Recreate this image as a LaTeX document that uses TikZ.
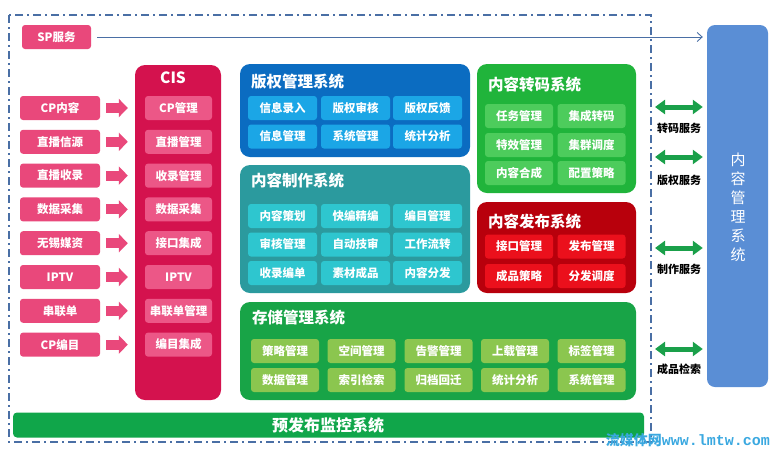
\documentclass[tikz,border=0pt]{standalone}
\usepackage{fontspec}
\setmainfont{Noto Sans CJK SC}
\newfontfamily\wmmono{Liberation Mono}
\usetikzlibrary{arrows.meta}

\definecolor{framecol}{HTML}{4A6FA5}
\definecolor{inpink}{HTML}{E9487B}
\definecolor{cisred}{HTML}{D4124E}
\definecolor{cispink}{HTML}{EC5787}
\definecolor{bqblue}{HTML}{0B6CC1}
\definecolor{bqitem}{HTML}{1BA6E6}
\definecolor{zzteal}{HTML}{2B9A9E}
\definecolor{zzitem}{HTML}{2EC6CF}
\definecolor{zmgreen}{HTML}{20B43B}
\definecolor{zmitem}{HTML}{4DCC5C}
\definecolor{fbred}{HTML}{B8000C}
\definecolor{fbitem}{HTML}{EB101C}
\definecolor{ccgreen}{HTML}{18A447}
\definecolor{ccitem}{HTML}{8BC64F}
\definecolor{jkgreen}{HTML}{10A64A}
\definecolor{cmsblue}{HTML}{5A8ED5}
\definecolor{svcgreen}{HTML}{1AA04A}
\definecolor{wmblue}{HTML}{3AA8E0}

\begin{document}
\begin{tikzpicture}[x=1pt, y=-1pt,
  every node/.style={inner sep=0pt, text=white},
  sysbox/.style={rounded corners=10pt},
  itembox/.style={rounded corners=3pt, minimum width=68pt, minimum height=24pt,
    font=\fontsize{11.5}{12}\selectfont\bfseries},
  inbox/.style={itembox, fill=inpink, minimum width=80pt},
  cisitem/.style={itembox, fill=cispink, minimum width=67pt},
  systitle/.style={anchor=west, font=\fontsize{15.5}{16}\selectfont\bfseries},
  svclabel/.style={text=black, font=\fontsize{11}{12}\selectfont\bfseries},
  pinkarrow/.style={draw=inpink, line width=10pt, -{Triangle[length=9pt,width=18pt]},
    shorten <=6pt, shorten >=17pt},
  svcarrow/.style={draw=svcgreen, line width=5pt,
    {Triangle[length=10pt,width=14pt]}-{Triangle[length=10pt,width=14pt]}, shorten >=4pt}
]

  \useasboundingbox (0,0) rectangle (773,448);

  % outer frame
  \draw[framecol, line width=1.6pt, dash pattern=on 8pt off 4pt on 2pt off 4pt]
    (9,15) rectangle (651,442);

  % content management system
  \node[sysbox, rounded corners=8pt, fill=cmsblue, minimum width=61pt, minimum height=362pt]
    (cms) at (737.5,206) {};
  \node[align=center, font=\fontsize{15}{19}\selectfont] (cmstext) at (738,207)
    {内\\容\\管\\理\\系\\统};

  % SP service
  \node[itembox, fill=inpink, minimum width=69pt] (sp) at (56.5,37) {SP服务};
  \draw[framecol, line width=0.9pt, -{Straight Barb[length=5pt,width=9pt]}, shorten <=6pt, shorten >=4pt]
    (sp) -- (sp -| cms.west);

  % CIS
  \node[sysbox, fill=cisred, minimum width=86pt, minimum height=335pt] (cis) at (178,232.5) {};
  \node[font=\fontsize{15.5}{16}\selectfont\bfseries] (cistitle) at (173,78) {CIS};

  % inputs
  \node[inbox] (in1) at (60,108) {CP内容};
  \node[inbox] (in2) at (60,141.8) {直播信源};
  \node[inbox] (in3) at (60,175.6) {直播收录};
  \node[inbox] (in4) at (60,209.4) {数据采集};
  \node[inbox] (in5) at (60,243.2) {无锡媒资};
  \node[inbox] (in6) at (60,277) {IPTV};
  \node[inbox] (in7) at (60,310.8) {串联单};
  \node[inbox] (in8) at (60,344.6) {CP编目};

  \node[cisitem] (cis1) at (178.5,108) {CP管理};
  \node[cisitem] (cis2) at (178.5,141.8) {直播管理};
  \node[cisitem] (cis3) at (178.5,175.6) {收录管理};
  \node[cisitem] (cis4) at (178.5,209.4) {数据采集};
  \node[cisitem] (cis5) at (178.5,243.2) {接口集成};
  \node[cisitem] (cis6) at (178.5,277) {IPTV};
  \node[cisitem] (cis7) at (178.5,310.8) {串联单管理};
  \node[cisitem] (cis8) at (178.5,344.6) {编目集成};

  \draw[pinkarrow] (in1) -- (cis1);
  \draw[pinkarrow] (in2) -- (cis2);
  \draw[pinkarrow] (in3) -- (cis3);
  \draw[pinkarrow] (in4) -- (cis4);
  \draw[pinkarrow] (in5) -- (cis5);
  \draw[pinkarrow] (in6) -- (cis6);
  \draw[pinkarrow] (in7) -- (cis7);
  \draw[pinkarrow] (in8) -- (cis8);

  % copyright management
  \node[sysbox, fill=bqblue, minimum width=230pt, minimum height=93pt] (bq) at (355,110.5) {};
  \node[systitle] (bqtitle) at (251,82) {版权管理系统};
  \node[itembox, fill=bqitem, minimum width=69pt] (bq1) at (282.5,108) {信息录入};
  \node[itembox, fill=bqitem, minimum width=69pt] (bq2) at (355.5,108) {版权审核};
  \node[itembox, fill=bqitem, minimum width=69pt] (bq3) at (427.5,108) {版权反馈};
  \node[itembox, fill=bqitem, minimum width=69pt] (bq4) at (282.5,136.5) {信息管理};
  \node[itembox, fill=bqitem, minimum width=69pt] (bq5) at (355.5,136.5) {系统管理};
  \node[itembox, fill=bqitem, minimum width=69pt] (bq6) at (427.5,136.5) {统计分析};

  % content production
  \node[sysbox, fill=zzteal, minimum width=230pt, minimum height=128pt] (zz) at (355,229) {};
  \node[systitle] (zztitle) at (251,181) {内容制作系统};
  \node[itembox, fill=zzitem, minimum width=69pt] (zz1) at (282.5,216) {内容策划};
  \node[itembox, fill=zzitem, minimum width=69pt] (zz2) at (355.5,216) {快编精编};
  \node[itembox, fill=zzitem, minimum width=69pt] (zz3) at (427.5,216) {编目管理};
  \node[itembox, fill=zzitem, minimum width=69pt] (zz4) at (282.5,244.5) {审核管理};
  \node[itembox, fill=zzitem, minimum width=69pt] (zz5) at (355.5,244.5) {自动技审};
  \node[itembox, fill=zzitem, minimum width=69pt] (zz6) at (427.5,244.5) {工作流转};
  \node[itembox, fill=zzitem, minimum width=69pt] (zz7) at (282.5,273) {收录编单};
  \node[itembox, fill=zzitem, minimum width=69pt] (zz8) at (355.5,273) {素材成品};
  \node[itembox, fill=zzitem, minimum width=69pt] (zz9) at (427.5,273) {内容分发};

  % transcoding
  \node[sysbox, fill=zmgreen, minimum width=159pt, minimum height=129pt] (zm) at (556.5,128.5) {};
  \node[systitle] (zmtitle) at (488,85) {内容转码系统};
  \node[itembox, fill=zmitem] (zm1) at (519,116) {任务管理};
  \node[itembox, fill=zmitem] (zm2) at (591.5,116) {集成转码};
  \node[itembox, fill=zmitem] (zm3) at (519,145) {特效管理};
  \node[itembox, fill=zmitem] (zm4) at (591.5,145) {集群调度};
  \node[itembox, fill=zmitem] (zm5) at (519,173) {内容合成};
  \node[itembox, fill=zmitem] (zm6) at (591.5,173) {配置策略};

  % publishing
  \node[sysbox, fill=fbred, minimum width=159pt, minimum height=91pt] (fb) at (556.5,247.5) {};
  \node[systitle] (fbtitle) at (488,222) {内容发布系统};
  \node[itembox, fill=fbitem] (fb1) at (519,246.5) {接口管理};
  \node[itembox, fill=fbitem] (fb2) at (591.5,246.5) {发布管理};
  \node[itembox, fill=fbitem] (fb3) at (519,276) {成品策略};
  \node[itembox, fill=fbitem] (fb4) at (591.5,276) {分发调度};

  % storage
  \node[sysbox, fill=ccgreen, minimum width=396pt, minimum height=98pt] (cc) at (438,351) {};
  \node[systitle] (cctitle) at (252,318) {存储管理系统};
  \node[itembox, fill=ccitem] (cc1) at (285,351) {策略管理};
  \node[itembox, fill=ccitem] (cc2) at (361.5,351) {空间管理};
  \node[itembox, fill=ccitem] (cc3) at (438.5,351) {告警管理};
  \node[itembox, fill=ccitem] (cc4) at (515,351) {上载管理};
  \node[itembox, fill=ccitem] (cc5) at (591.5,351) {标签管理};
  \node[itembox, fill=ccitem] (cc6) at (285,380) {数据管理};
  \node[itembox, fill=ccitem] (cc7) at (361.5,380) {索引检索};
  \node[itembox, fill=ccitem] (cc8) at (438.5,380) {归档回迁};
  \node[itembox, fill=ccitem] (cc9) at (515,380) {统计分析};
  \node[itembox, fill=ccitem] (cc10) at (591.5,380) {系统管理};

  % pre-release monitoring
  \node[rounded corners=4pt, fill=jkgreen, minimum width=631pt, minimum height=25pt] (jk) at (328.5,425) {};
  \node[font=\fontsize{16}{16}\selectfont\bfseries] (jktext) at (328,425) {预发布监控系统};

  % services
  \coordinate (s1) at (655,107);
  \coordinate (s2) at (655,157);
  \coordinate (s3) at (655,248);
  \coordinate (s4) at (655,349);
  \draw[svcarrow] (s1) -- (s1 -| cms.west);
  \draw[svcarrow] (s2) -- (s2 -| cms.west);
  \draw[svcarrow] (s3) -- (s3 -| cms.west);
  \draw[svcarrow] (s4) -- (s4 -| cms.west);
  \node[svclabel] (lab1) at (679,128) {转码服务};
  \node[svclabel] (lab2) at (679,180) {版权服务};
  \node[svclabel] (lab3) at (679,269) {制作服务};
  \node[svclabel] (lab4) at (679,369) {成品检索};

  % watermark
  \node[anchor=south east, text=wmblue, font=\fontsize{14}{14}\selectfont\bfseries] (wm) at (770,447)
    {流媒体网{\wmmono\fontsize{15}{15}\selectfont www.lmtw.com}};
\end{tikzpicture}
\end{document}
